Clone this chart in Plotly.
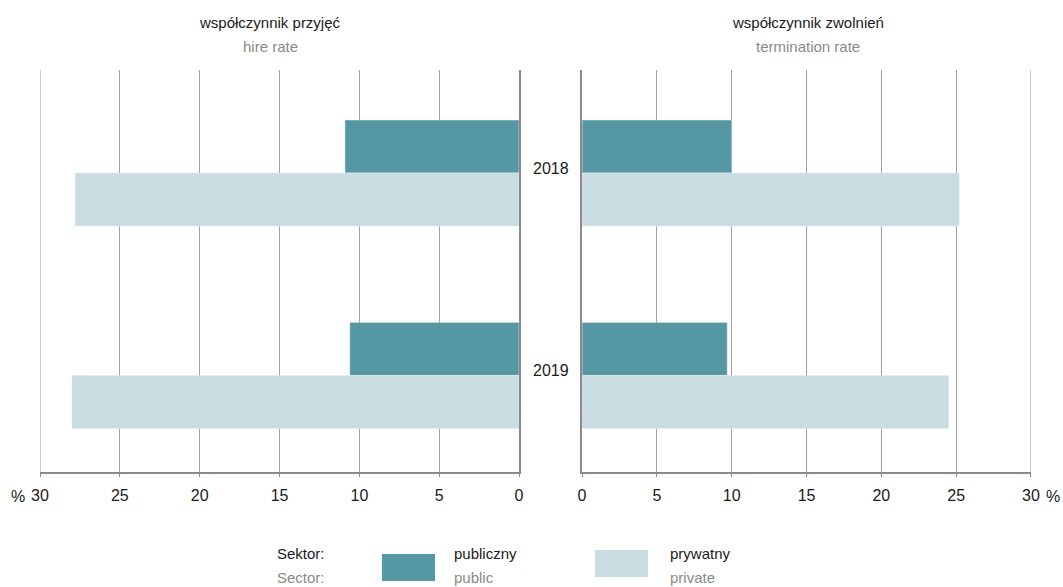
import plotly.graph_objects as go

# data
years = ["2018", "2019"]
hire_public = [10.9, 10.6]
hire_private = [27.8, 28.0]
term_public = [10.0, 9.7]
term_private = [25.2, 24.5]
ticks = [0, 5, 10, 15, 20, 25, 30]

C_PUB = "#5598a3"
C_PRIV = "#c8dce1"
GRID = "#a0a0a0"
AXIS = "#8a8a8a"
FONT = "Liberation Sans, Arial, sans-serif"
TXT = "#1a1a1a"
GREY_TXT = "#8a8a8a"

fig = go.Figure()
fig.add_trace(go.Bar(y=years, x=hire_public, orientation="h", marker_color=C_PUB,
                     xaxis="x", yaxis="y", name="publiczny", hoverinfo="x"))
fig.add_trace(go.Bar(y=years, x=hire_private, orientation="h", marker_color=C_PRIV,
                     xaxis="x", yaxis="y", name="prywatny", hoverinfo="x"))
fig.add_trace(go.Bar(y=years, x=term_public, orientation="h", marker_color=C_PUB,
                     xaxis="x2", yaxis="y2", name="publiczny", hoverinfo="x"))
fig.add_trace(go.Bar(y=years, x=term_private, orientation="h", marker_color=C_PRIV,
                     xaxis="x2", yaxis="y2", name="prywatny", hoverinfo="x"))

xcommon = dict(tickvals=ticks, showgrid=True, gridcolor=GRID, gridwidth=1,
               showline=True, linecolor=AXIS, linewidth=2, ticks="outside",
               ticklen=3, tickcolor=AXIS, zeroline=False, automargin=False,
               ticklabelstandoff=5,
               tickfont=dict(size=16, color=TXT, family=FONT))
# slightly uneven padding above/below the two categories, as in the original
ycommon = dict(type="category", range=[len(years) - 0.523, -0.509], autorange=False,
               showticklabels=False, showgrid=False,
               showline=True, linecolor=AXIS, linewidth=2, ticks="", zeroline=False,
               automargin=False)

L_DOM = [0, 0.4834]
R_DOM = [0.547, 1]

fig.update_layout(
    width=1063, height=587,
    paper_bgcolor="white", plot_bgcolor="white",
    margin=dict(l=40, r=32, t=70, b=115),
    barmode="group", bargap=0.476, bargroupgap=0,
    showlegend=False,
    font=dict(family=FONT, color=TXT),
    xaxis={**xcommon, "domain": L_DOM, "range": [max(ticks), 0], "anchor": "y"},
    xaxis2={**xcommon, "domain": R_DOM, "range": [0, max(ticks)], "anchor": "y2"},
    yaxis={**ycommon, "anchor": "x", "side": "right"},
    yaxis2={**ycommon, "anchor": "x2", "side": "left"},
)

ann = []
# panel titles
for xc, pl, en in [(0.2321, "współczynnik przyjęć", "hire rate"),
                   (0.775, "współczynnik zwolnień", "termination rate")]:
    ann.append(dict(x=xc, y=1.0, xref="paper", yref="paper", xanchor="center", yanchor="middle",
                    yshift=48, text=pl, showarrow=False,
                    font=dict(size=15, color=TXT, family=FONT)))
    ann.append(dict(x=xc, y=1.0, xref="paper", yref="paper", xanchor="center", yanchor="middle",
                    yshift=24, text=en, showarrow=False,
                    font=dict(size=15, color=GREY_TXT, family=FONT)))
# year labels in the gap (category index on the y axis)
for i, yr in enumerate(years):
    ann.append(dict(x=(L_DOM[1] + R_DOM[0]) / 2, y=i, xref="paper", yref="y", text=yr,
                    xanchor="center", yanchor="middle", yshift=5, showarrow=False,
                    font=dict(size=16, color=TXT, family=FONT)))
# percent signs
ann.append(dict(x=0, y=0, xref="paper", yref="paper", xanchor="center", yanchor="middle",
                xshift=-22, yshift=-24, text="%", showarrow=False,
                font=dict(size=16, color=TXT, family=FONT)))
ann.append(dict(x=1, y=0, xref="paper", yref="paper", xanchor="center", yanchor="middle",
                xshift=22, yshift=-24, text="%", showarrow=False,
                font=dict(size=16, color=TXT, family=FONT)))

# legend built by hand
def lab(x, pl, en):
    ann.append(dict(x=x, y=-0.203, xref="paper", yref="paper", xanchor="left", yanchor="middle",
                    text=pl, showarrow=False, font=dict(size=15, color=TXT, family=FONT)))
    ann.append(dict(x=x, y=-0.263, xref="paper", yref="paper", xanchor="left", yanchor="middle",
                    text=en, showarrow=False, font=dict(size=15, color=GREY_TXT, family=FONT)))

lab(0.2371, "Sektor:", "Sector:")
lab(0.4157, "publiczny", "public")
lab(0.6337, "prywatny", "private")

shapes = [
    dict(type="rect", xref="paper", yref="paper", x0=0.345, x1=0.3986, y0=-0.271, y1=-0.204,
         fillcolor=C_PUB, line_width=0),
    dict(type="rect", xref="paper", yref="paper", x0=0.560, x1=0.6135, y0=-0.261, y1=-0.194,
         fillcolor=C_PRIV, line_width=0),
]
# outer gridlines at 30 (plotly skips the ones on the range edge)
for xr, yr_ in [("x", "y domain"), ("x2", "y2 domain")]:
    shapes.append(dict(type="line", xref=xr, yref=yr_, x0=max(ticks), x1=max(ticks),
                       y0=0, y1=1, line=dict(color=GRID, width=1), layer="below"))
fig.update_layout(annotations=ann, shapes=shapes)

# page body has an 8px margin by default; drop it so the chart sits at 0,0
fig.write_html("out.html", config={"displayModeBar": False},
               post_script="document.body.style.margin='0';")
